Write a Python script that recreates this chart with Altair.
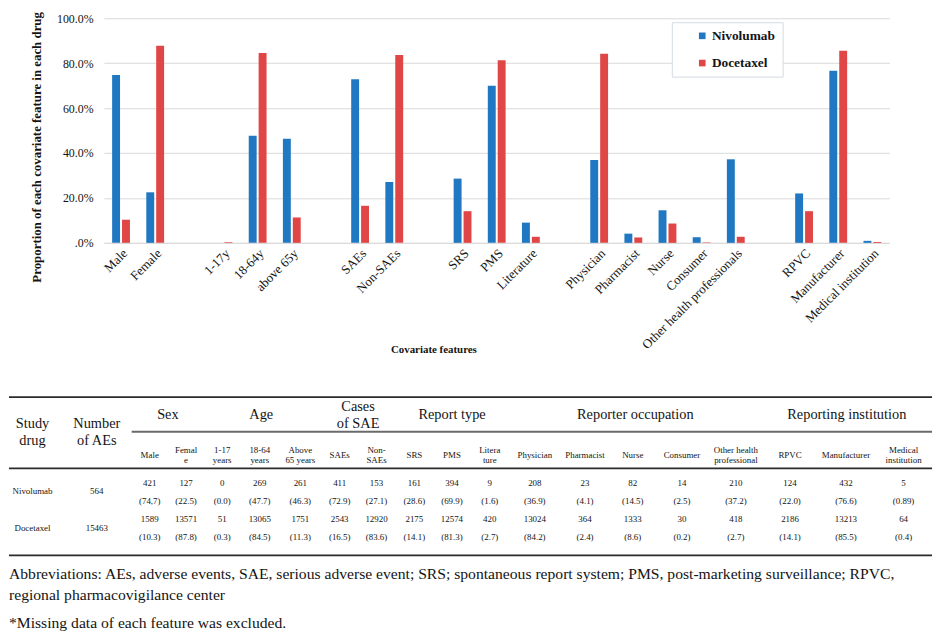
import altair as alt
import pandas as pd

# ---------------- data ----------------
DRUGS = ["Nivolumab", "Docetaxel"]
FEATURES = ["Male", "Female", "1-17y", "18-64y", "above 65y", "SAEs", "Non-SAEs",
            "SRS", "PMS", "Literature", "Physician", "Pharmacist", "Nurse", "Consumer",
            "Other health professionals", "RPVC", "Manufacturer", "Medical institution"]
FEATURE_GROUP_SIZES = [2, 3, 2, 3, 5, 3]
NIVOLUMAB_PCT = [74.7, 22.5, 0.0, 47.7, 46.3, 72.9, 27.1, 28.6, 69.9, 9.0,
                 36.9, 4.1, 14.5, 2.5, 37.2, 22.0, 76.6, 0.89]
DOCETAXEL_PCT = [10.3, 87.8, 0.3, 84.5, 11.3, 16.5, 83.6, 14.1, 81.3, 2.7,
                 84.2, 2.4, 8.6, 0.2, 2.7, 14.1, 85.5, 0.4]
Y_TICKS = [0, 20, 40, 60, 80, 100]
Y_TITLE = "Proportion of each covariate feature in each drug"
X_TITLE = "Covariate features"

TABLE_STUB_HEADERS = ["Study\ndrug", "Number\nof AEs"]
TABLE_GROUP_HEADERS = ["Sex", "Age", "Cases\nof SAE", "Report type",
                       "Reporter occupation", "Reporting institution"]
TABLE_SUB_HEADERS = ["Male", "Femal\ne", "1-17\nyears", "18-64\nyears", "Above\n65 years",
                     "SAEs", "Non-\nSAEs", "SRS", "PMS", "Litera\nture", "Physician",
                     "Pharmacist", "Nurse", "Consumer", "Other health\nprofessional",
                     "RPVC", "Manufacturer", "Medical\ninstitution"]
TABLE_DRUGS = ["Nivolumab", "Docetaxel"]
TABLE_N_AES = ["564", "15463"]
NIVOLUMAB_COUNTS = ["421", "127", "0", "269", "261", "411", "153", "161", "394", "9",
                    "208", "23", "82", "14", "210", "124", "432", "5"]
NIVOLUMAB_PCT_TEXT = ["(74,7)", "(22.5)", "(0.0)", "(47.7)", "(46.3)", "(72.9)", "(27.1)",
                      "(28.6)", "(69.9)", "(1.6)", "(36.9)", "(4.1)", "(14.5)", "(2.5)",
                      "(37.2)", "(22.0)", "(76.6)", "(0.89)"]
DOCETAXEL_COUNTS = ["1589", "13571", "51", "13065", "1751", "2543", "12920", "2175",
                    "12574", "420", "13024", "364", "1333", "30", "418", "2186", "13213", "64"]
DOCETAXEL_PCT_TEXT = ["(10.3)", "(87.8)", "(0.3)", "(84.5)", "(11.3)", "(16.5)", "(83.6)",
                      "(14.1)", "(81.3)", "(2.7)", "(84.2)", "(2.4)", "(8.6)", "(0.2)",
                      "(2.7)", "(14.1)", "(85.5)", "(0.4)"]
NOTE_LINES = ["Abbreviations: AEs, adverse events, SAE, serious adverse event; SRS; spontaneous "
              "report system; PMS, post-marketing surveillance; RPVC,",
              "regional pharmacovigilance center"]
FOOTNOTE = "*Missing data of each feature was excluded."

# ---------------- style / layout ----------------
FONT = "Liberation Serif, Times New Roman, Times, DejaVu Serif, serif"
BLUE = "#1f78c1"
RED = "#e04646"
GRID = "#d9d9d9"
INK = "#141414"
PLOT_H = 227
# relative table column widths (stub columns + 18 feature columns)
COL_WIDTHS = [59.5, 70.5, 36.5, 37, 36, 40, 42, 37.5, 37, 39.5, 36.5, 40,
              51, 50.5, 46, 53.5, 55.5, 54, 59, 57.5]
# table vertical layout (units below the top rule)
Y_GROUP, Y_STUB, Y_GROUP_RULE, Y_SUB, Y_SUB_RULE = 18.5, 36, 35, 58.5, 72
Y_ROWS = [(87, 105, 95), (123, 141, 132)]
Y_BOTTOM_RULE = 160
Y_NOTES = [179, 200]
Y_FOOT = 228
TABLE_H = 228
LH_BIG = 17.5
LH_SMALL = 9.5

# ---------------- bar chart ----------------
x_domain = []
k = 0
for g, size in enumerate(FEATURE_GROUP_SIZES):
    if g > 0:
        x_domain.append(" " * g)
    x_domain += FEATURES[k:k + size]
    k += size

bar_rows = []
for f, a, b in zip(FEATURES, NIVOLUMAB_PCT, DOCETAXEL_PCT):
    bar_rows.append({"feature": f, "drug": DRUGS[0], "value": a})
    bar_rows.append({"feature": f, "drug": DRUGS[1], "value": b})
bar_df = pd.DataFrame(bar_rows)

bars = alt.Chart(bar_df).mark_bar().encode(
    x=alt.X("feature:N", scale=alt.Scale(domain=x_domain, paddingInner=0.478, paddingOuter=0.239),
            axis=alt.Axis(title=X_TITLE, labelAngle=-45, labelFont=FONT, labelFontSize=13,
                          labelColor=INK, labelPadding=4, ticks=False, domainColor=GRID,
                          titleFont=FONT, titleFontSize=11, titleFontWeight="bold",
                          titleColor=INK, titleX=333, titleY=108, titleAlign="center",
                          titleBaseline="middle")),
    xOffset=alt.XOffset("drug:N", scale=alt.Scale(domain=DRUGS, paddingInner=0.2, paddingOuter=0)),
    y=alt.Y("value:Q", scale=alt.Scale(domain=[0, 100], nice=False),
            axis=alt.Axis(values=Y_TICKS,
                          labelExpr="datum.value == 0 ? '.0%' : format(datum.value, '.1f') + '%'",
                          labelFont=FONT, labelFontSize=12, labelColor=INK, labelPadding=11,
                          domain=False, ticks=False, gridColor=GRID,
                          title=Y_TITLE, titleFont=FONT, titleFontSize=13,
                          titleFontWeight="bold", titleColor=INK, titleAngle=270,
                          titleX=-68, titleY=130, titleAlign="center", titleBaseline="middle")),
    color=alt.Color("drug:N", scale=alt.Scale(domain=DRUGS, range=[BLUE, RED]),
                    legend=alt.Legend(title=None, orient="none", legendX=670, legendY=4,
                                      direction="vertical", labelFont=FONT, labelFontSize=13.5,
                                      labelFontWeight="bold", labelColor=INK,
                                      symbolType="square", symbolSize=45, symbolStrokeWidth=0,
                                      symbolOffset=17, labelOffset=3, padding=7, rowPadding=12.5,
                                      strokeColor="#d3dbe4", fillColor="white")),
).properties(width=794, height=PLOT_H)

spacer = alt.Chart(pd.DataFrame({"blank": [""]})).mark_text().encode(
    text="blank:N").properties(width=21, height=PLOT_H)

# ---------------- table ----------------
edges = [0.0]
for w in COL_WIDTHS:
    edges.append(edges[-1] + w)
centers = [(edges[i] + edges[i + 1]) / 2 for i in range(len(COL_WIDTHS))]
feat_centers = centers[2:]
TOTAL = edges[-1]
X_MIN = 6


def first_line_y(text, center, lh):
    n = text.count("\n") + 1
    return center - (n - 1) * lh / 2


big_rows = [{"t": TABLE_STUB_HEADERS[0], "x": centers[0],
             "y": first_line_y(TABLE_STUB_HEADERS[0], Y_STUB, LH_BIG)},
            {"t": TABLE_STUB_HEADERS[1], "x": centers[1],
             "y": first_line_y(TABLE_STUB_HEADERS[1], Y_STUB, LH_BIG)}]
k = 0
for h, size in zip(TABLE_GROUP_HEADERS, FEATURE_GROUP_SIZES):
    big_rows.append({"t": h, "x": (feat_centers[k] + feat_centers[k + size - 1]) / 2,
                     "y": first_line_y(h, Y_GROUP, LH_BIG)})
    k += size
big_df = pd.DataFrame(big_rows)

small_rows = []
for h, cx in zip(TABLE_SUB_HEADERS, feat_centers):
    small_rows.append({"t": h, "x": cx, "y": first_line_y(h, Y_SUB, LH_SMALL)})
for (yc, yp, yl), name, n, counts, pcts in zip(
        Y_ROWS, TABLE_DRUGS, TABLE_N_AES,
        [NIVOLUMAB_COUNTS, DOCETAXEL_COUNTS], [NIVOLUMAB_PCT_TEXT, DOCETAXEL_PCT_TEXT]):
    small_rows.append({"t": name, "x": centers[0], "y": yl})
    small_rows.append({"t": n, "x": centers[1], "y": yl})
    for c, p, cx in zip(counts, pcts, feat_centers):
        small_rows.append({"t": c, "x": cx, "y": yc})
        small_rows.append({"t": p, "x": cx, "y": yp})
small_df = pd.DataFrame(small_rows)

note_df = pd.DataFrame([{"t": NOTE_LINES[0], "x": X_MIN, "y": Y_NOTES[0]},
                        {"t": NOTE_LINES[1], "x": X_MIN, "y": Y_NOTES[1]},
                        {"t": FOOTNOTE, "x": X_MIN, "y": Y_FOOT}])

dark_rules = pd.DataFrame([{"x": X_MIN, "x2": TOTAL, "y": 0},
                           {"x": X_MIN, "x2": TOTAL, "y": Y_SUB_RULE},
                           {"x": X_MIN, "x2": TOTAL, "y": Y_BOTTOM_RULE}])
gray_rules = pd.DataFrame([{"x": edges[2], "x2": TOTAL, "y": Y_GROUP_RULE}])

XS = alt.Scale(domain=[X_MIN, TOTAL], nice=False, zero=False)
YS = alt.Scale(domain=[0, TABLE_H], nice=False, zero=False, reverse=True)


def pos(ch):
    return ch.encode(x=alt.X("x:Q", scale=XS, axis=None), y=alt.Y("y:Q", scale=YS, axis=None))


rule_dark = alt.Chart(dark_rules).mark_rule(color="#2b2b2b", strokeWidth=1.8).encode(
    x=alt.X("x:Q", scale=XS, axis=None), x2="x2:Q", y=alt.Y("y:Q", scale=YS, axis=None))
rule_gray = alt.Chart(gray_rules).mark_rule(color="#6a6a6a", strokeWidth=2).encode(
    x=alt.X("x:Q", scale=XS, axis=None), x2="x2:Q", y=alt.Y("y:Q", scale=YS, axis=None))
big_text = pos(alt.Chart(big_df).mark_text(font=FONT, fontSize=14.5, lineBreak="\n", lineHeight=LH_BIG,
                                           baseline="middle", align="center", color=INK)).encode(text="t:N")
small_text = pos(alt.Chart(small_df).mark_text(font=FONT, fontSize=9, lineBreak="\n", lineHeight=LH_SMALL,
                                               baseline="middle", align="center", color=INK)).encode(text="t:N")
notes = pos(alt.Chart(note_df).mark_text(font=FONT, fontSize=15.8, baseline="middle", align="left",
                                         color=INK)).encode(text="t:N")

table = alt.layer(rule_dark, rule_gray, big_text, small_text, notes).properties(width=933, height=TABLE_H)

top = alt.hconcat(spacer, bars, spacing=0)
chart = alt.vconcat(top, table, spacing=42).properties(padding=0).configure_view(stroke=None)

chart.save("out.html", embed_options={"renderer": "svg", "actions": False})
